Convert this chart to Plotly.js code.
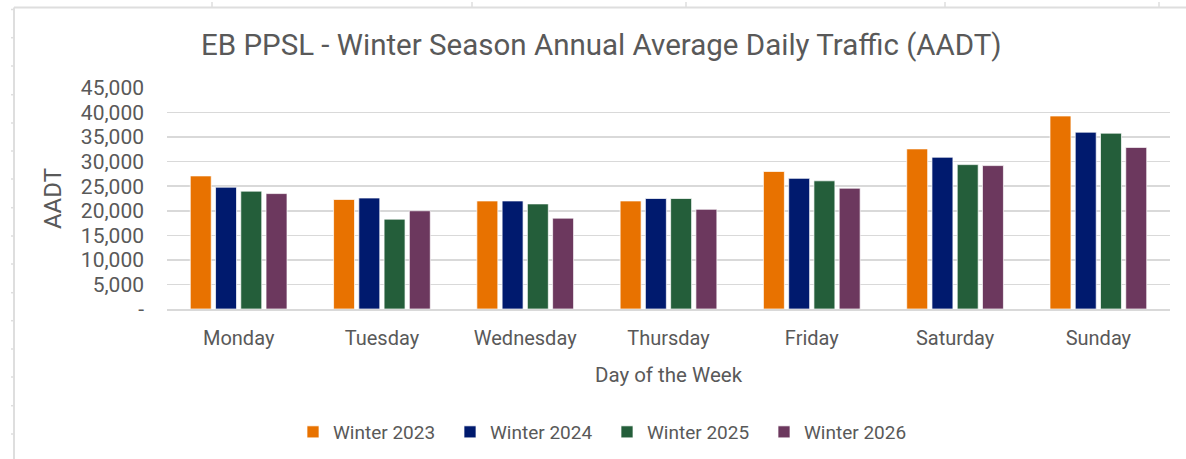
<!DOCTYPE html>
<html>
<head>
<meta charset="utf-8">
<script src="https://cdn.plot.ly/plotly-3.0.1.min.js"></script>
<style>html,body{margin:0;padding:0;background:#fff;}#chart{width:1186px;height:459px;}</style>
</head>
<body>
<div id="chart"></div>
<script>
const days = ["Monday","Tuesday","Wednesday","Thursday","Friday","Saturday","Sunday"];
const winter2023 = [27100, 22300, 22000, 22000, 28000, 32600, 39300];
const winter2024 = [24800, 22600, 22000, 22500, 26600, 30900, 36000];
const winter2025 = [24000, 18300, 21400, 22500, 26100, 29400, 35800];
const winter2026 = [23500, 20000, 18500, 20300, 24600, 29200, 32900];
const seriesNames = ["Winter 2023","Winter 2024","Winter 2025","Winter 2026"];
const yTickVals = [0,5000,10000,15000,20000,25000,30000,35000,40000,45000];
const yTickText = ["-","5,000","10,000","15,000","20,000","25,000","30,000","35,000","40,000","45,000"];

const colors = ["#E87200","#001A6E","#245E3A","#6C385E"];
const values = [winter2023, winter2024, winter2025, winter2026];
const FONT = "Roboto, 'Open Sans', sans-serif";
const GREY = "#595959";

const traces = values.map((v,i)=>({
  type:"bar", name:seriesNames[i], x:days, y:v,
  marker:{color:colors[i], line:{color:"rgba(255,255,255,0.7)", width:1}},
  hoverinfo:"skip"
}));

// decorative spreadsheet frame
const shapes = [];
const frameColor = "#dedede";
shapes.push({type:"line", xref:"paper", yref:"paper", layer:"below",
  x0:(14-167)/1003, x1:(1186-167)/1003, y0:(309-7.5)/221, y1:(309-7.5)/221,
  line:{color:frameColor, width:2}});
shapes.push({type:"line", xref:"paper", yref:"paper", layer:"below",
  x0:(14-167)/1003, x1:(14-167)/1003, y0:(309-7.5)/221, y1:(309-460)/221,
  line:{color:frameColor, width:2}});
[212,472,686,945,1159].forEach(px=>{
  shapes.push({type:"line", xref:"paper", yref:"paper", layer:"below",
    x0:(px-167)/1003, x1:(px-167)/1003, y0:(309-2)/221, y1:(309-7.5)/221,
    line:{color:frameColor, width:1.5}});
});
[9.5,37.7,66,94.7,123,151,179,207.7,236,264,292.7,320.7,349,377,405.7,434].forEach(py=>{
  shapes.push({type:"line", xref:"paper", yref:"paper", layer:"below",
    x0:(11-167)/1003, x1:(14-167)/1003, y0:(309-py)/221, y1:(309-py)/221,
    line:{color:frameColor, width:1.5}});
});

const layout = {
  width:1186, height:459,
  margin:{l:167, r:16, t:88, b:150, pad:0, autoexpand:false},
  paper_bgcolor:"#ffffff", plot_bgcolor:"#ffffff",
  font:{family:FONT, color:GREY},
  title:{text:"EB PPSL - Winter Season Annual Average Daily Traffic (AADT)",
    font:{family:FONT, size:29.5, color:GREY},
    xref:"container", x:0.507, xanchor:"center", yref:"container", y:1-45/459, yanchor:"middle"},
  barmode:"group", bargap:0.295, bargroupgap:0.17,
  xaxis:{
    showgrid:false, showline:true, linecolor:"#d9d9d9", linewidth:1.5,
    ticks:"", ticklabelstandoff:10, tickfont:{family:FONT, size:20, color:GREY},
    title:{text:"Day of the Week", font:{family:FONT, size:20.5, color:GREY}, standoff:19},
    automargin:false
  },
  yaxis:{
    range:[0,45000], tickmode:"array", tickvals:yTickVals, ticktext:yTickText,
    showgrid:true, gridcolor:"#d9d9d9", gridwidth:1.5, zeroline:false, showline:false,
    ticks:"", ticklabelstandoff:22, tickfont:{family:FONT, size:21, color:GREY},
    title:{text:"AADT", font:{family:FONT, size:24, color:GREY}, standoff:12},
    automargin:false
  },
  legend:{orientation:"h", xref:"container", yref:"container", x:293/1186, xanchor:"left", y:1-432/459, yanchor:"middle",
    font:{family:FONT, size:19, color:GREY}, entrywidth:112, bgcolor:"rgba(0,0,0,0)"},
  shapes:shapes,
  showlegend:true
};

Plotly.newPlot("chart", traces, layout, {staticPlot:true, displayModeBar:false});
</script>
</body>
</html>
